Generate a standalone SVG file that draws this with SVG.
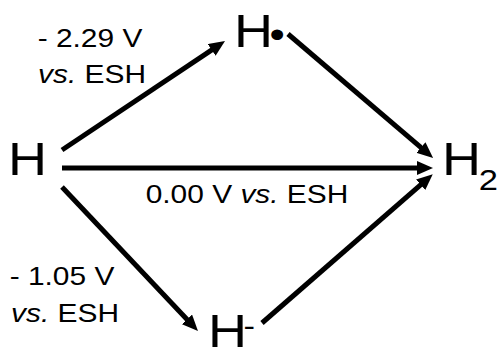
<svg xmlns="http://www.w3.org/2000/svg" width="497" height="348" viewBox="0 0 497 348">
  <style>
    text { font-family: "Liberation Sans", Arial, sans-serif; fill: #000; }
    .big { font-size: 47px; }
    .lbl { font-size: 26px; text-anchor: middle; }
    .it { font-style: italic; }
    .conn { stroke: #000; stroke-width: 5; fill: none; marker-end: url(#ah); }
  </style>
  <defs>
    <marker id="ah" markerUnits="userSpaceOnUse" viewBox="0 0 16 14" markerWidth="16" markerHeight="14" refX="6" refY="7" orient="auto">
      <path d="M0,0 L16,7 L0,14 z" fill="#000"/>
    </marker>
  </defs>

  <g id="connectors">
    <line class="conn" x1="62" y1="150" x2="216.7" y2="46.6"/>
    <line class="conn" x1="62" y1="168" x2="423" y2="168"/>
    <line class="conn" x1="62" y1="187" x2="191.1" y2="323.7"/>
    <line class="conn" x1="288" y1="34" x2="425.5" y2="151.4"/>
    <line class="conn" x1="262" y1="323" x2="425.2" y2="180.8"/>
  </g>

  <g id="node-H">
    <text class="big" transform="translate(8,175) scale(1.15,1)">H</text>
  </g>
  <g id="node-H-radical">
    <text class="big" transform="translate(234,47) scale(1.15,1)">H<tspan font-size="38" dx="-3" dy="1">•</tspan></text>
  </g>
  <g id="node-H2">
    <text class="big" transform="translate(442,175) scale(1.15,1)">H<tspan font-size="30" dx="-2" dy="15">2</tspan></text>
  </g>
  <g id="node-H-anion">
    <text class="big" transform="translate(208,347) scale(1.15,1)">H<tspan font-size="30" dx="-3" dy="-11">-</tspan></text>
  </g>

  <g id="labels">
    <text class="lbl" transform="translate(90,47) scale(1.15,1)">- 2.29 V</text>
    <text class="lbl" transform="translate(92,83) scale(1.15,1)"><tspan class="it">vs.</tspan> ESH</text>
    <text class="lbl" transform="translate(247,203) scale(1.15,1)">0.00 V <tspan class="it">vs.</tspan> ESH</text>
    <text class="lbl" transform="translate(62,285) scale(1.15,1)">- 1.05 V</text>
    <text class="lbl" transform="translate(65,322) scale(1.15,1)"><tspan class="it">vs.</tspan> ESH</text>
  </g>
</svg>
